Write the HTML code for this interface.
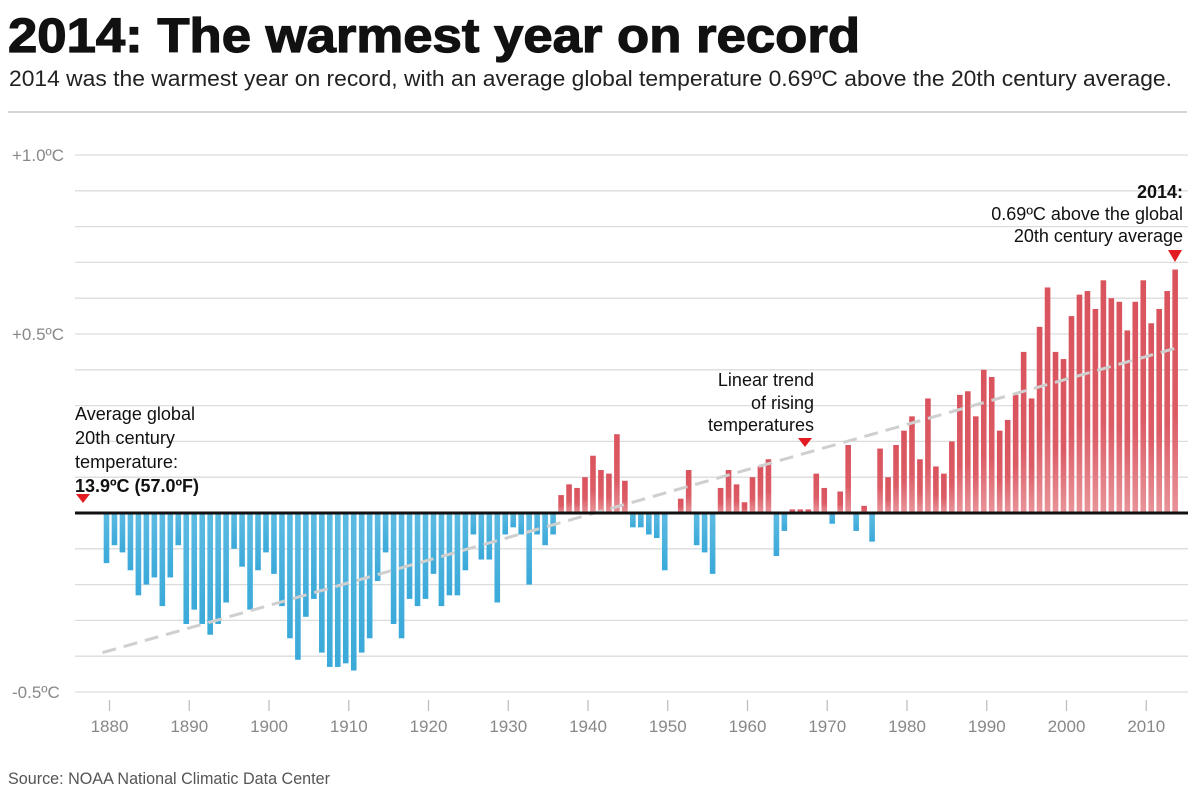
<!DOCTYPE html>
<html><head><meta charset="utf-8"><style>
html,body{margin:0;padding:0;background:#fff;}
svg{display:block;font-family:"Liberation Sans",sans-serif;}
</style></head><body>
<svg id="chart" width="1200" height="798" viewBox="0 0 1200 798">
<defs>
<linearGradient id="gRed" x1="0" y1="0" x2="0" y2="1"><stop offset="0" stop-color="#d9535d"/><stop offset="0.6" stop-color="#dc5c66"/><stop offset="1" stop-color="#e8949a"/></linearGradient>
<linearGradient id="gBlue" x1="0" y1="0" x2="0" y2="1"><stop offset="0" stop-color="#5dbbe2"/><stop offset="1" stop-color="#3aa9d9"/></linearGradient>
</defs>
<text x="8" y="52" font-size="48" font-weight="900" fill="#111" textLength="852" lengthAdjust="spacingAndGlyphs" stroke="#111" stroke-width="1.2">2014: The warmest year on record</text>
<text x="9" y="86" font-size="22" fill="#222" textLength="1163" lengthAdjust="spacingAndGlyphs">2014 was the warmest year on record, with an average global temperature 0.69ºC above the 20th century average.</text>
<line x1="8" y1="112" x2="1187" y2="112" stroke="#c8c8c8" stroke-width="1.5"/>
<g id="grid"></g>
<g id="bars"></g>
<g id="xaxis"></g>
<line id="trend" stroke="#cfcfcf" stroke-width="3" stroke-dasharray="14,8"/>
<line id="zero" stroke="#111" stroke-width="3"/>
<g font-size="18" fill="#111">
<text x="75" y="420" textLength="120" lengthAdjust="spacingAndGlyphs">Average global</text>
<text x="75" y="444" textLength="100" lengthAdjust="spacingAndGlyphs">20th century</text>
<text x="75" y="468" textLength="103" lengthAdjust="spacingAndGlyphs">temperature:</text>
<text x="75" y="492" font-weight="bold" textLength="124" lengthAdjust="spacingAndGlyphs">13.9ºC (57.0ºF)</text>
<polygon points="76,494 90,494 83,503" fill="#e31b23"/>
</g>
<g font-size="18" fill="#111" text-anchor="end">
<text x="814" y="386">Linear trend</text>
<text x="814" y="409">of rising</text>
<text x="814" y="431">temperatures</text>
<polygon points="798,438 812,438 805,447" fill="#e31b23"/>
</g>
<g font-size="18" fill="#111" text-anchor="end">
<text x="1183" y="198" font-weight="bold">2014:</text>
<text x="1183" y="220">0.69ºC above the global</text>
<text x="1183" y="242">20th century average</text>
<polygon points="1168,250 1182,250 1175,262" fill="#e31b23"/>
</g>
<text x="8" y="784" font-size="17" fill="#555" textLength="322" lengthAdjust="spacingAndGlyphs">Source: NOAA National Climatic Data Center</text>
</svg>
<script>
const startYear = 1880;
const anomalies = [
-0.14,-0.09,-0.11,-0.16,-0.23,-0.20,-0.18,-0.26,-0.18,-0.09,
-0.31,-0.27,-0.31,-0.34,-0.31,-0.25,-0.10,-0.15,-0.27,-0.16,
-0.11,-0.17,-0.26,-0.35,-0.41,-0.29,-0.24,-0.39,-0.43,-0.43,
-0.42,-0.44,-0.39,-0.35,-0.19,-0.11,-0.31,-0.35,-0.24,-0.26,
-0.24,-0.17,-0.26,-0.23,-0.23,-0.16,-0.06,-0.13,-0.13,-0.25,
-0.06,-0.04,-0.06,-0.20,-0.06,-0.09,-0.06,0.05,0.08,0.07,
0.10,0.16,0.12,0.11,0.22,0.09,-0.04,-0.04,-0.06,-0.07,
-0.16,0.00,0.04,0.12,-0.09,-0.11,-0.17,0.07,0.12,0.08,
0.03,0.10,0.13,0.15,-0.12,-0.05,0.01,0.01,0.01,0.11,
0.07,-0.03,0.06,0.19,-0.05,0.02,-0.08,0.18,0.10,0.19,
0.23,0.27,0.15,0.32,0.13,0.11,0.20,0.33,0.34,0.27,
0.40,0.38,0.23,0.26,0.33,0.45,0.32,0.52,0.63,0.45,
0.43,0.55,0.61,0.62,0.57,0.65,0.60,0.59,0.51,0.59,
0.65,0.53,0.57,0.62,0.68];
const yTicks = [1.0,0.9,0.8,0.7,0.6,0.5,0.4,0.3,0.2,0.1,-0.1,-0.2,-0.3,-0.4,-0.5];
const yTickLabels = ["+1.0ºC","+0.5ºC","-0.5ºC"];
const yLabelValues = [1.0,0.5,-0.5];
const xTickYears = [1880,1890,1900,1910,1920,1930,1940,1950,1960,1970,1980,1990,2000,2010];
const trendStart = [1880,-0.39];
const trendEnd = [2014,0.46];

const NS = "http://www.w3.org/2000/svg";
const X0 = 106.5, STEP = 7.975, Y0 = 513, PX = 358, LEFT = 75, RIGHT = 1188;
function xScale(year){ return X0 + (year - startYear) * STEP; }
function yScale(v){ return Y0 - v * PX; }
function mk(tag, attrs, parent){ const e = document.createElementNS(NS, tag); for (const k in attrs) e.setAttribute(k, attrs[k]); parent.appendChild(e); return e; }

const grid = document.getElementById('grid');
yTicks.forEach(v => {
  const l = mk('line', {x1: LEFT, x2: RIGHT, y1: yScale(v), y2: yScale(v), stroke: '#dcdcdc', 'stroke-width': 1.3}, grid);
  
  
});
yLabelValues.forEach((v, i) => {
  const t = mk('text', {x: 12, y: yScale(v) + 6, 'font-size': 17, fill: '#888'}, grid);
  t.textContent = yTickLabels[i];
  
  
});

const bars = document.getElementById('bars');
const BW = 5.6;
anomalies.forEach((v, i) => {
  const yr = startYear + i;
  const cx = xScale(yr);
  const h = Math.max(Math.abs(yScale(v) - Y0), 0.8);
  const r = mk('rect', {x: cx - BW/2, y: v >= 0 ? Y0 - h : Y0, width: BW, height: h, fill: v >= 0 ? 'url(#gRed)' : 'url(#gBlue)'}, bars);
  
  
});

const xa = document.getElementById('xaxis');
xTickYears.forEach(yr => {
  const x = xScale(yr) + 3;
  const l = mk('line', {x1: x, x2: x, y1: 700, y2: 711, stroke: '#bbb', 'stroke-width': 1.2}, xa);
  
  
  const t = mk('text', {x: x, y: 732, 'font-size': 17, fill: '#888', 'text-anchor': 'middle'}, xa);
  t.textContent = yr;
  
  
});

const tr = document.getElementById('trend');
tr.setAttribute('x1', xScale(trendStart[0]) - 4); tr.setAttribute('y1', yScale(trendStart[1]));
tr.setAttribute('x2', xScale(trendEnd[0])); tr.setAttribute('y2', yScale(trendEnd[1]));
const z = document.getElementById('zero');
z.setAttribute('x1', LEFT); z.setAttribute('x2', RIGHT); z.setAttribute('y1', Y0); z.setAttribute('y2', Y0);
</script>
</body></html>
